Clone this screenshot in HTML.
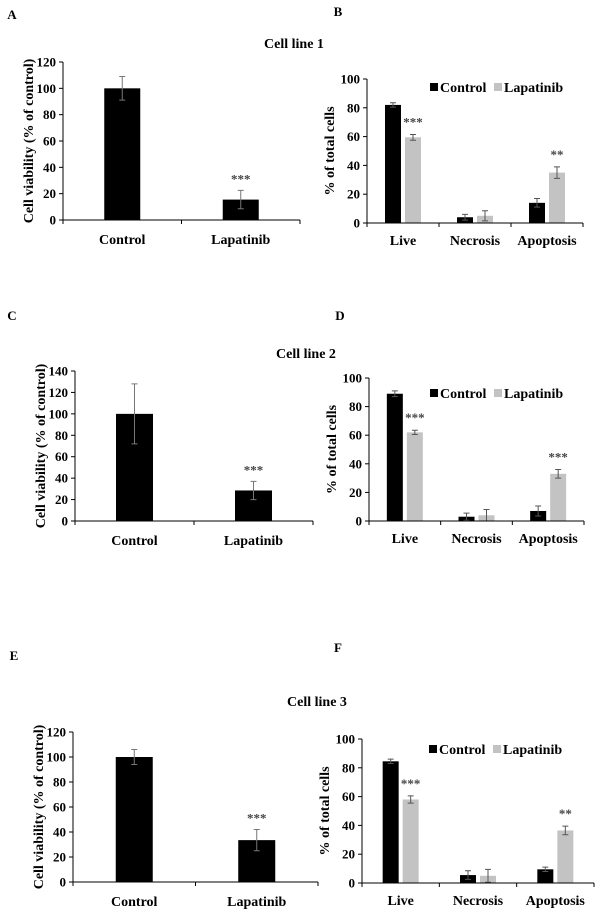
<!DOCTYPE html>
<html><head><meta charset="utf-8"><style>
html,body{margin:0;padding:0;background:#fff;}
svg{display:block;}
svg text{font-family:"Liberation Serif","Times New Roman",serif;font-weight:bold;}
</style></head><body>
<svg id="fig" width="601" height="912" viewBox="0 0 601 912"></svg>
<script>
// ---- data ----
const viabCategories = ["Control", "Lapatinib"];
const viab1 = [100, 15.5];
const viab1Err = [9, 7];
const viab2 = [100, 28.5];
const viab2Err = [28, 8.5];
const viab3 = [100, 33.5];
const viab3Err = [6, 8.5];
const viabStars = ["", "***"];
const viab1Ticks = [0, 20, 40, 60, 80, 100, 120];
const viab2Ticks = [0, 20, 40, 60, 80, 100, 120, 140];

const cellCategories = ["Live", "Necrosis", "Apoptosis"];
const seriesNames = ["Control", "Lapatinib"];
const cells1Ctrl = [82, 4, 14];
const cells1CtrlErr = [1.5, 2, 3];
const cells1Lap = [59.5, 5, 35];
const cells1LapErr = [2, 3.5, 4];
const cells1Stars = ["***", "", "**"];
const cells2Ctrl = [89, 3, 7];
const cells2CtrlErr = [2, 2.5, 3.5];
const cells2Lap = [62, 4, 33];
const cells2LapErr = [1.5, 4, 3];
const cells2Stars = ["***", "", "***"];
const cells3Ctrl = [84.5, 5.5, 9.5];
const cells3CtrlErr = [1.5, 3, 1.5];
const cells3Lap = [58, 5, 36.5];
const cells3LapErr = [2.5, 4.5, 3];
const cells3Stars = ["***", "", "**"];
const cellTicks = [0, 20, 40, 60, 80, 100];

const svg = document.getElementById('fig');
const NS = 'http://www.w3.org/2000/svg';
function mk(tag, attrs, parent, text) {
  const e = document.createElementNS(NS, tag);
  for (const k in attrs) e.setAttribute(k, attrs[k]);
  if (text !== undefined) e.textContent = text;
  (parent || svg).appendChild(e);
  return e;
}
function txt(x, y, s, size, anchor, parent, name) {
  const t = mk('text', {x: x, y: y, 'font-size': size, 'text-anchor': anchor || 'middle', fill: '#000',
    'font-family': 'Liberation Serif, Times New Roman, serif', 'font-weight': 'bold'}, parent, s);
  
  
  return t;
}

function drawViability(g, ax, cats, vals, errs, stars, ticks) {
  const yMax = ticks[ticks.length - 1];
  const ys = v => ax.y0 - (v / yMax) * (ax.y0 - ax.yTop);
  const bw = (ax.x1 - ax.x0) / cats.length;
  const xc = i => ax.x0 + bw * (i + 0.5);
  ticks.forEach(t => {
    const l = mk('line', {x1: ax.x0 - 4, x2: ax.x0, y1: ys(t), y2: ys(t), stroke: '#000'}, g);
    
    
    txt(ax.x0 - 7, ys(t) + 4.5, String(t), 13, 'end', g, 'y-tick-label');
  });
  for (let i = 0; i <= cats.length; i++) {
    const x = ax.x0 + bw * i;
    const l = mk('line', {x1: x, x2: x, y1: ax.y0, y2: ax.y0 + 4, stroke: '#000'}, g);
    
    
  }
  cats.forEach((c, i) => {
    const r = mk('rect', {x: xc(i) - ax.barW / 2, y: ys(vals[i]), width: ax.barW, height: ax.y0 - ys(vals[i]), fill: '#000'}, g);
    
    
    const e = mk('path', {d: `M${xc(i)-3},${ys(vals[i]+errs[i])}h6M${xc(i)},${ys(vals[i]+errs[i])}V${ys(vals[i]-errs[i])}M${xc(i)-3},${ys(vals[i]-errs[i])}h6`, stroke: '#777', 'stroke-width': 1, fill: 'none'}, g);
    
    
    txt(xc(i), ax.y0 + 24, c, 14, 'middle', g, 'x-category-label');
    if (stars[i]) txt(xc(i), ys(vals[i] + errs[i]) - 7, stars[i], 13, 'middle', g, 'significance-stars').setAttribute('fill', '#444');
  });
  const a = mk('path', {d: `M${ax.x0},${ax.yTop}V${ax.y0}H${ax.x1}`, stroke: '#000', fill: 'none'}, g);
  
  
  const yl = txt(0, 0, 'Cell viability (% of control)', 14, 'middle', g, 'y-axis-title');
  yl.setAttribute('transform', `translate(${ax.x0 - 30},${(ax.y0 + ax.yTop) / 2}) rotate(-90)`);
}

function drawCells(g, ax, cats, ctrl, ctrlE, lap, lapE, stars, ticks) {
  const yMax = ticks[ticks.length - 1];
  const ys = v => ax.y0 - (v / yMax) * (ax.y0 - ax.yTop);
  const bw = (ax.x1 - ax.x0) / cats.length;
  const xc = i => ax.x0 + bw * (i + 0.5);
  ticks.forEach(t => {
    const l = mk('line', {x1: ax.x0 - 4, x2: ax.x0, y1: ys(t), y2: ys(t), stroke: '#000'}, g);
    
    
    txt(ax.x0 - 7, ys(t) + 4.5, String(t), 13, 'end', g, 'y-tick-label');
  });
  for (let i = 0; i <= cats.length; i++) {
    const x = ax.x0 + bw * i;
    const l = mk('line', {x1: x, x2: x, y1: ax.y0, y2: ax.y0 + 4, stroke: '#000'}, g);
    
    
  }
  const series = [[ctrl, ctrlE, '#000', -18], [lap, lapE, '#c3c3c3', 2]];
  cats.forEach((c, i) => {
    series.forEach((s, k) => {
      const v = s[0][i], er = s[1][i], x = xc(i) + s[3];
      const r = mk('rect', {x: x, y: ys(v), width: 16, height: ax.y0 - ys(v), fill: s[2]}, g);
      
      
      const m = x + 8;
      const e = mk('path', {d: `M${m-3},${ys(v+er)}h6M${m},${ys(v+er)}V${ys(Math.max(v-er,0))}M${m-3},${ys(Math.max(v-er,0))}h6`, stroke: '#555', 'stroke-width': 1, fill: 'none'}, g);
      
      
      if (k === 1 && stars[i]) txt(m, ys(v + er) - 8, stars[i], 13, 'middle', g, 'significance-stars').setAttribute('fill', '#444');
    });
    txt(xc(i), ax.y0 + 22, c, 14, 'middle', g, 'x-category-label');
  });
  const a = mk('path', {d: `M${ax.x0},${ax.yTop}V${ax.y0}H${ax.x1}`, stroke: '#000', fill: 'none'}, g);
  
  
  const yl = txt(0, 0, '% of total cells', 14, 'middle', g, 'y-axis-title');
  yl.setAttribute('transform', `translate(${ax.x0 - 33},${(ax.y0 + ax.yTop) / 2}) rotate(-90)`);
  const lg = mk('g', {}, g);
  
  
  const r1 = mk('rect', {x: ax.legX, y: ax.legY - 5, width: 8, height: 8, fill: '#000'}, lg);
  
  
  txt(ax.legX + 10, ax.legY + 4, seriesNames[0], 14, 'start', lg, 'legend-label-control');
  const r2 = mk('rect', {x: ax.legX + 64, y: ax.legY - 5, width: 8, height: 8, fill: '#c3c3c3'}, lg);
  
  
  txt(ax.legX + 74, ax.legY + 4, seriesNames[1], 14, 'start', lg, 'legend-label-lapatinib');
}

function group(name) {
  const g = mk('g', {});
  
  
  return g;
}

const gA = group('panel-a');
txt(12, 19, 'A', 13, 'middle', gA, 'panel-label-a');
drawViability(gA, {x0: 63, x1: 300, y0: 220, yTop: 62, barW: 36}, viabCategories, viab1, viab1Err, viabStars, viab1Ticks);
const gB = group('panel-b');
txt(338, 16, 'B', 13, 'middle', gB, 'panel-label-b');
txt(294, 48, 'Cell line 1', 14, 'middle', gB, 'title-cell-line-1');
drawCells(gB, {x0: 367, x1: 583, y0: 223, yTop: 79, legX: 430, legY: 88}, cellCategories, cells1Ctrl, cells1CtrlErr, cells1Lap, cells1LapErr, cells1Stars, cellTicks);

const gC = group('panel-c');
txt(12, 320, 'C', 13, 'middle', gC, 'panel-label-c');
drawViability(gC, {x0: 75, x1: 313, y0: 521, yTop: 371, barW: 37}, viabCategories, viab2, viab2Err, viabStars, viab2Ticks);
const gD = group('panel-d');
txt(340, 320, 'D', 13, 'middle', gD, 'panel-label-d');
txt(306, 358, 'Cell line  2', 14, 'middle', gD, 'title-cell-line-2');
drawCells(gD, {x0: 369, x1: 584, y0: 521, yTop: 378, legX: 430, legY: 394}, cellCategories, cells2Ctrl, cells2CtrlErr, cells2Lap, cells2LapErr, cells2Stars, cellTicks);

const gE = group('panel-e');
txt(14, 660, 'E', 13, 'middle', gE, 'panel-label-e');
drawViability(gE, {x0: 73, x1: 318, y0: 882, yTop: 732, barW: 37}, viabCategories, viab3, viab3Err, viabStars, viab1Ticks);
const gF = group('panel-f');
txt(338, 652, 'F', 13, 'middle', gF, 'panel-label-f');
txt(317, 706, 'Cell line  3', 14, 'middle', gF, 'title-cell-line-3');
drawCells(gF, {x0: 362, x1: 594, y0: 883, yTop: 739, legX: 429, legY: 750}, cellCategories, cells3Ctrl, cells3CtrlErr, cells3Lap, cells3LapErr, cells3Stars, cellTicks);
</script>
</body></html>
